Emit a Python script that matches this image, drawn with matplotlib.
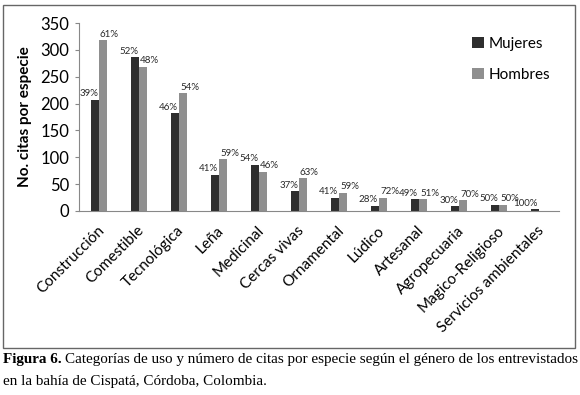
import matplotlib
matplotlib.use("Agg")
import matplotlib.pyplot as plt
import matplotlib.patches as patches
import matplotlib.transforms as mtransforms
import numpy as np

# data
categorias = ["Construcción", "Comestible", "Tecnológica", "Leña", "Medicinal",
              "Cercas vivas", "Ornamental", "Lúdico", "Artesanal", "Agropecuaria",
              "Magico-Religioso", "Servicios ambientales"]
mujeres = [207, 286, 182, 67, 86, 37, 25, 10, 22, 9, 11, 3]
hombres = [318, 269, 219, 96, 73, 61, 34, 24, 22, 20, 11, 0]
pct_mujeres = ["39%", "52%", "46%", "41%", "54%", "37%", "41%", "28%", "49%", "30%", "50%", "100%"]
pct_hombres = ["61%", "48%", "54%", "59%", "46%", "63%", "59%", "72%", "51%", "70%", "50%", ""]

plt.rcParams['font.family'] = ['Lato', 'DejaVu Sans']

fig = plt.figure(figsize=(5.8, 3.95), dpi=100)
ax = fig.add_axes([79/580, 1-211/395, 480/580, 188/395])

x = np.arange(len(categorias))
w = 0.2
ax.bar(x - w/2, mujeres, w, color="#2e2e2e", label="Mujeres")
ax.bar(x + w/2, hombres, w, color="#8f8f8f", label="Hombres")

for i in range(len(categorias)):
    ax.text(x[i] - 0.025, mujeres[i] + 3, pct_mujeres[i], ha="right", va="bottom",
            fontsize=7, color="#2a2a2a")
    if pct_hombres[i]:
        ax.text(x[i] + 0.025, hombres[i] + 3, pct_hombres[i], ha="left", va="bottom",
                fontsize=7, color="#2a2a2a")

ax.set_xlim(-0.5, 11.5)
ax.set_ylim(0, 350)
ax.set_yticks(range(0, 351, 50))
ax.tick_params(axis="y", labelsize=12, length=3, color="#888888", pad=4)
ax.tick_params(axis="x", length=0, pad=9)
ax.set_xticks(x)
ax.set_xticklabels(categorias, rotation=45, ha="right", rotation_mode="anchor", fontsize=11)
shift = mtransforms.ScaledTranslation(-2/100, 0, fig.dpi_scale_trans)
for lab in ax.get_xticklabels():
    lab.set_transform(lab.get_transform() + shift)
ax.set_ylabel("No. citas por especie", fontsize=11, fontweight="bold", labelpad=6)
for s in ["top", "right"]:
    ax.spines[s].set_visible(False)
ax.spines["left"].set_color("#888888")
ax.spines["bottom"].set_color("#888888")

leg = ax.legend(loc="upper left", bbox_to_anchor=(0.79, 1.0), frameon=False,
                fontsize=11, handlelength=0.8, handleheight=0.8, handletextpad=0.3,
                labelspacing=1.1)

# outer frame around the chart
fig.patches.append(patches.Rectangle((3/580, 1-348/395), 572/580, 343/395,
                                     transform=fig.transFigure, fill=False,
                                     edgecolor="#666666", linewidth=1))

# caption
serif = ["Liberation Serif", "DejaVu Serif"]
t1 = fig.text(3/580, 1-360/395, "Figura 6.", family=serif, fontweight="bold",
              fontsize=10.9, va="center")
fig.canvas.draw()
bb = t1.get_window_extent()
fig.text(bb.x1/580 + 3/580, 1-360/395,
         "Categorías de uso y número de citas por especie según el género de los entrevistados",
         family=serif, fontsize=10.9, va="center")
fig.text(3/580, 1-381/395, "en la bahía de Cispatá, Córdoba, Colombia.",
         family=serif, fontsize=10.9, va="center")

fig.savefig("out.png", dpi=100)
